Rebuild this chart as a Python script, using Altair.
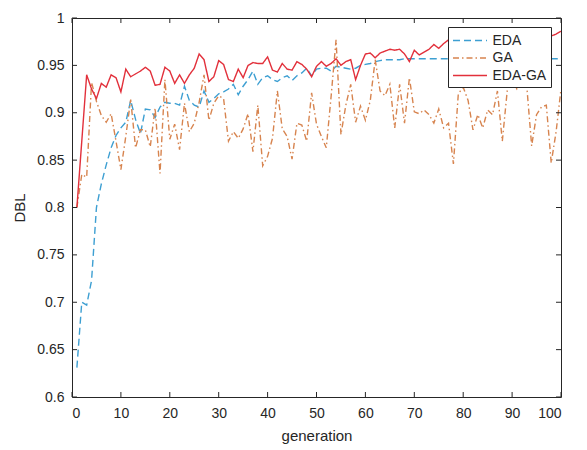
import altair as alt
import pandas as pd

generation = list(range(1, 101))

eda = [
    0.631, 0.700, 0.697, 0.723, 0.800, 0.825, 0.845, 0.863, 0.876, 0.884,
    0.890, 0.913, 0.893, 0.878, 0.904, 0.903, 0.895, 0.906, 0.911, 0.910,
    0.910, 0.908, 0.928, 0.913, 0.908, 0.906, 0.923, 0.911, 0.915, 0.920,
    0.922, 0.925, 0.930, 0.919, 0.928, 0.935, 0.944, 0.930, 0.937, 0.939,
    0.935, 0.933, 0.937, 0.939, 0.934, 0.939, 0.942, 0.947, 0.939, 0.946,
    0.947, 0.947, 0.944, 0.949, 0.948, 0.947, 0.946, 0.947, 0.950, 0.951,
    0.952, 0.954, 0.955, 0.956, 0.956, 0.956, 0.956, 0.957, 0.957, 0.957,
    0.957, 0.957, 0.957, 0.957, 0.957, 0.957, 0.957, 0.957, 0.957, 0.957,
    0.957, 0.957, 0.957, 0.957, 0.957, 0.957, 0.957, 0.957, 0.957, 0.957,
    0.957, 0.957, 0.957, 0.957, 0.957, 0.957, 0.957, 0.957, 0.957, 0.957,
]

ga = [
    0.800, 0.835, 0.832, 0.932, 0.912, 0.897, 0.890, 0.899, 0.870, 0.840,
    0.875, 0.914, 0.863, 0.882, 0.882, 0.864, 0.905, 0.836, 0.935, 0.872,
    0.888, 0.861, 0.910, 0.880, 0.889, 0.911, 0.940, 0.892, 0.910, 0.918,
    0.915, 0.870, 0.880, 0.873, 0.883, 0.899, 0.859, 0.908, 0.844, 0.854,
    0.873, 0.923, 0.883, 0.875, 0.851, 0.889, 0.887, 0.870, 0.921, 0.888,
    0.875, 0.863, 0.918, 0.977, 0.877, 0.908, 0.930, 0.890, 0.907, 0.892,
    0.913, 0.956, 0.923, 0.918, 0.930, 0.884, 0.930, 0.889, 0.937, 0.901,
    0.899, 0.903, 0.898, 0.889, 0.904, 0.884, 0.889, 0.846, 0.920, 0.927,
    0.913, 0.882, 0.898, 0.884, 0.903, 0.898, 0.923, 0.870, 0.923, 0.935,
    0.925, 0.930, 0.928, 0.865, 0.898, 0.906, 0.908, 0.847, 0.880, 0.925,
]

eda_ga = [
    0.800, 0.870, 0.940, 0.925, 0.915, 0.931, 0.927, 0.940, 0.937, 0.922,
    0.946, 0.938, 0.941, 0.944, 0.948, 0.944, 0.929, 0.930, 0.948, 0.944,
    0.931, 0.940, 0.931, 0.940, 0.947, 0.962, 0.956, 0.933, 0.938, 0.955,
    0.951, 0.935, 0.933, 0.946, 0.937, 0.950, 0.953, 0.952, 0.952, 0.959,
    0.945, 0.943, 0.952, 0.946, 0.945, 0.954, 0.951, 0.946, 0.938, 0.949,
    0.954, 0.949, 0.952, 0.957, 0.950, 0.954, 0.956, 0.935, 0.950, 0.962,
    0.963, 0.958, 0.963, 0.965, 0.967, 0.966, 0.967, 0.962, 0.954, 0.966,
    0.961, 0.964, 0.967, 0.972, 0.968, 0.973, 0.977, 0.975, 0.976, 0.978,
    0.975, 0.978, 0.976, 0.979, 0.977, 0.980, 0.978, 0.980, 0.979, 0.981,
    0.979, 0.981, 0.980, 0.982, 0.985, 0.985, 0.980, 0.981, 0.983, 0.986,
]

series_names = ["EDA", "GA", "EDA-GA"]
series_colors = ["#3d9fd2", "#d7844f", "#e2303b"]
series_dashes = [[7, 4], [6, 3, 1.5, 3], [1, 0]]

x_ticks = [0, 10, 20, 30, 40, 50, 60, 70, 80, 90, 100]
y_ticks = [0.6, 0.65, 0.7, 0.75, 0.8, 0.85, 0.9, 0.95, 1.0]

rows = []
for name, vals in zip(series_names, [eda, ga, eda_ga]):
    for g, v in zip(generation, vals):
        rows.append({"generation": g, "DBL": v, "series": name})
df = pd.DataFrame(rows)

W, H = 489, 379
INK = "#262626"
FONT = "Liberation Sans"

x_scale = alt.Scale(domain=[0, 100], nice=False, zero=False)
y_scale = alt.Scale(domain=[0.6, 1.0], nice=False, zero=False)

legend = alt.Legend(
    title=None,
    orient="none",
    legendX=376,
    legendY=9,
    direction="vertical",
    symbolType="M-2,0H2",
    symbolSize=289,
    symbolStrokeWidth=1.3,
    symbolOffset=8.5,
    labelOffset=13,
    labelFont=FONT,
    labelFontSize=14,
    labelColor=INK,
    padding=4,
    rowPadding=0.5,
    strokeColor=INK,
    fillColor="white",
    cornerRadius=0,
)

lines = alt.Chart(df).mark_line(strokeWidth=1.4, clip=True).encode(
    x=alt.X(
        "generation:Q",
        scale=x_scale,
        axis=alt.Axis(values=x_ticks, title="generation", format="d", orient="bottom"),
    ),
    y=alt.Y(
        "DBL:Q",
        scale=y_scale,
        axis=alt.Axis(values=y_ticks, title="DBL", format=".2~f", orient="left"),
    ),
    color=alt.Color(
        "series:N",
        scale=alt.Scale(domain=series_names, range=series_colors),
        sort=series_names,
        legend=legend,
    ),
    strokeDash=alt.StrokeDash(
        "series:N",
        scale=alt.Scale(domain=series_names, range=series_dashes),
        sort=series_names,
        legend=legend,
    ),
    order=alt.Order("generation:Q"),
)

xt = pd.DataFrame({"t": x_ticks})
yt = pd.DataFrame({"t": y_ticks})

tick_style = dict(color=INK, strokeWidth=1)
bottom_ticks = alt.Chart(xt).mark_rule(**tick_style).encode(
    x=alt.X("t:Q", scale=x_scale, axis=None), y=alt.value(H), y2=alt.value(H - 5)
)
top_ticks = alt.Chart(xt).mark_rule(**tick_style).encode(
    x=alt.X("t:Q", scale=x_scale, axis=None), y=alt.value(0), y2=alt.value(5)
)
left_ticks = alt.Chart(yt).mark_rule(**tick_style).encode(
    y=alt.Y("t:Q", scale=y_scale, axis=None), x=alt.value(0), x2=alt.value(5)
)
right_ticks = alt.Chart(yt).mark_rule(**tick_style).encode(
    y=alt.Y("t:Q", scale=y_scale, axis=None), x=alt.value(W), x2=alt.value(W - 5)
)

chart = (
    alt.layer(lines, bottom_ticks, top_ticks, left_ticks, right_ticks)
    .resolve_axis(x="independent", y="independent")
    .properties(
        width=W,
        height=H,
        background="white",
        autosize=alt.AutoSizeParams(type="none"),
        padding={"left": 64, "top": 10, "right": 18, "bottom": 50},
    )
    .configure_view(stroke=INK, strokeWidth=1)
    .configure_axis(
        domain=False,
        ticks=False,
        tickSize=0,
        grid=False,
        labelFont=FONT,
        labelFontSize=14,
        labelColor=INK,
        titleFont=FONT,
        titleFontSize=15,
        titleColor=INK,
        titleFontWeight="normal",
    )
    .configure_axisX(labelPadding=9, titlePadding=8)
    .configure_axisY(labelPadding=8, titlePadding=9)
)

chart.save("out.html", embed_options={"renderer": "svg", "actions": False})
